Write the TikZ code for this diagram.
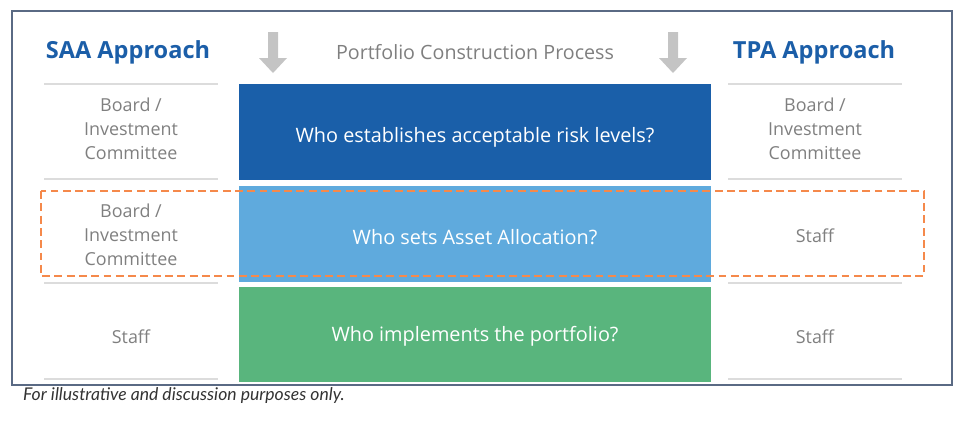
\documentclass[tikz,border=0pt]{standalone}
\usepackage{fontspec}
\setmainfont{Open Sans}
\newfontfamily\notefont{Lato}
\definecolor{headblue}{HTML}{1B5EA8}
\definecolor{darkbox}{HTML}{1A5FA9}
\definecolor{lightbox}{HTML}{5FAADD}
\definecolor{greenbox}{HTML}{59B57D}
\definecolor{celltext}{HTML}{7F7F7F}
\definecolor{rulegray}{HTML}{DCDCDC}
\definecolor{arrowgray}{HTML}{C4C4C4}
\definecolor{hilite}{HTML}{F5894B}
\definecolor{framecol}{HTML}{5A6A84}
\begin{document}
\begin{tikzpicture}[align=center,x=0.02cm,y=-0.02cm,
        head/.style={font=\fontsize{13.4}{16}\selectfont\bfseries,text=headblue},
        cell/.style={font=\fontsize{10.2}{13.6}\selectfont,text=celltext},
        qbox/.style={font=\fontsize{11.3}{13}\selectfont,text=white,minimum width=9.44cm,minimum height=1.92cm,inner sep=0pt,text height=12.5pt,text depth=0pt},
        sep/.style={rulegray,line width=0.8pt}]
        \useasboundingbox (0,0) rectangle (963,420);
        \draw[framecol,line width=0.9pt] (12,11) rectangle (952,385);
        % headings
        \node[head](saa) at (128,52) {SAA Approach};
        \node[head](tpa) at (814,52) {TPA Approach};
        \node[cell,font=\fontsize{11.2}{13}\selectfont](pcp) at (475,52) {Portfolio Construction Process};
        \fill[arrowgray] (268,32) -- (278,32) -- (278,58) -- (287,58) -- (273,73) -- (259,58) -- (268,58) -- cycle;
        \fill[arrowgray] (668,32) -- (678,32) -- (678,58) -- (687,58) -- (673,73) -- (659,58) -- (668,58) -- cycle;
        % questions
        \node[qbox,fill=darkbox](q1) at (475,132) {Who establishes acceptable risk levels?};
        \node[qbox,fill=lightbox](q2) at (475,234) {Who sets Asset Allocation?};
        \node[qbox,fill=greenbox,minimum height=1.9cm,text height=8.5pt](q3) at (475,334.5) {Who implements the portfolio?};
        % left column
        \draw[sep] (44,84) -- (218,84);
        \draw[sep] (44,179) -- (218,179);
        \draw[sep] (44,283) -- (218,283);
        \draw[sep] (44,379) -- (218,379);
        \node[cell](l1) at (131,129) {Board /\\Investment\\Committee};
        \node[cell](l2) at (131,235) {Board /\\Investment\\Committee};
        \node[cell](l3) at (131,337) {Staff};
        % right column
        \draw[sep] (728,84) -- (902,84);
        \draw[sep] (728,179) -- (902,179);
        \draw[sep] (728,283) -- (902,283);
        \draw[sep] (728,379) -- (902,379);
        \node[cell](r1) at (815,129) {Board /\\Investment\\Committee};
        \node[cell](r2) at (815,236) {Staff};
        \node[cell](r3) at (815,337) {Staff};
        % highlight
        \draw[hilite,line width=1.1pt,dash pattern=on 4.5pt off 2.5pt] (41,191) rectangle (924,276);
        \node[anchor=west,font=\notefont\itshape\fontsize{10}{12}\selectfont,text=black!80](note) at (17,396) {For illustrative and discussion purposes only.};
\end{tikzpicture}
\end{document}
